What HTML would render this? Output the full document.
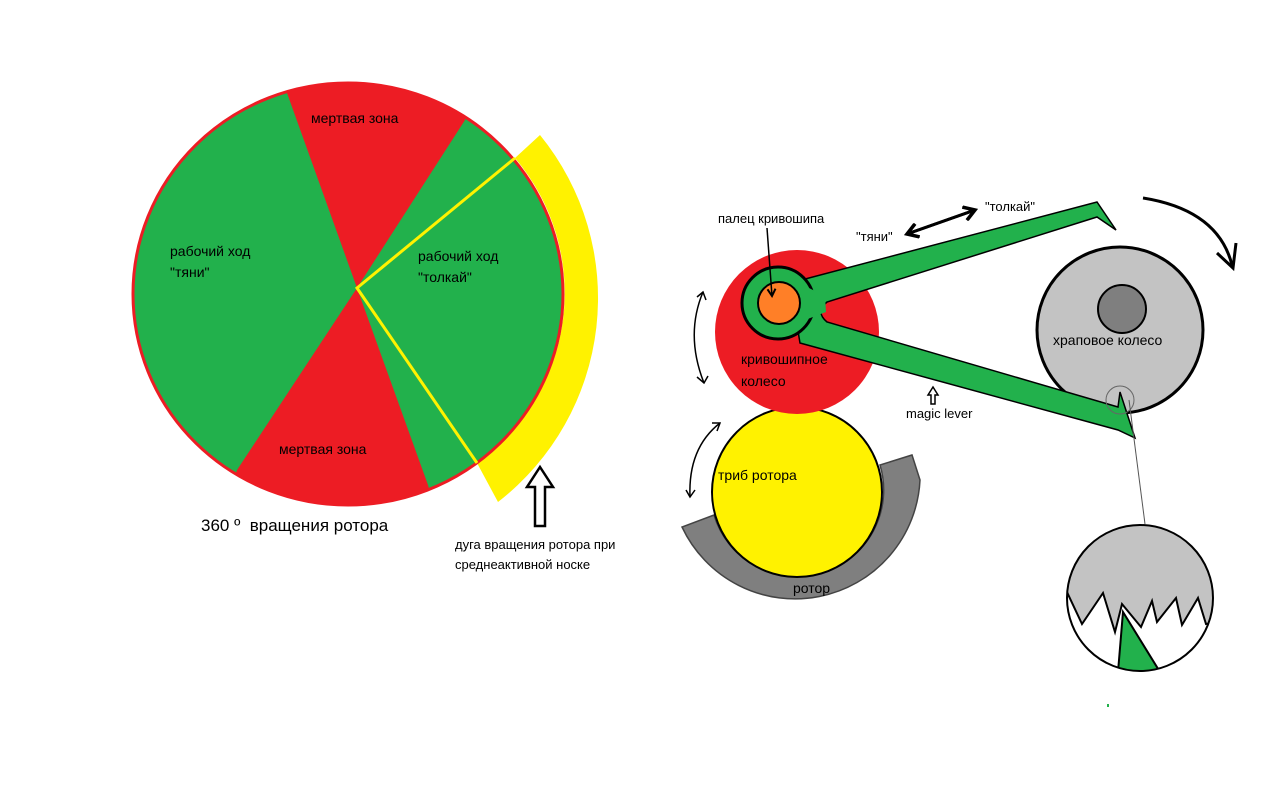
<!DOCTYPE html>
<html><head><meta charset="utf-8"><style>
html,body{margin:0;padding:0;background:#fff;}
svg{display:block;}
text{font-family:"Liberation Sans","DejaVu Sans",sans-serif;}
</style></head><body>
<svg width="1280" height="792" viewBox="0 0 1280 792" xmlns="http://www.w3.org/2000/svg">
<defs>
<clipPath id="pc"><ellipse cx="348" cy="294" rx="215" ry="211"/></clipPath>
<marker id="ah" markerWidth="10" markerHeight="10" refX="8" refY="5" orient="auto" markerUnits="userSpaceOnUse"><path d="M1,1 L8,5 L1,9" fill="none" stroke="#000" stroke-width="2"/></marker>
<marker id="ah2" markerWidth="16" markerHeight="16" refX="12" refY="8" orient="auto" markerUnits="userSpaceOnUse"><path d="M1,1 L12,8 L1,15" fill="none" stroke="#000" stroke-width="3.5"/></marker>
</defs>
<!-- yellow band -->
<path d="M515,158 L540,135 A258,258 0 0 1 498,502 L477,463 A215,211 0 0 0 515,158 Z" fill="#fff200"/>
<!-- pie -->
<g clip-path="url(#pc)">
<rect x="120" y="70" width="460" height="450" fill="#22b14c"/>
<path d="M357,288 L287,93 L260,40 L480,40 L465,120 Z" fill="#ed1c24"/>
<path d="M357,288 L428,485 L440,530 L220,530 L237,470 Z" fill="#ed1c24"/>
</g>
<ellipse cx="348" cy="294" rx="215" ry="211" fill="none" stroke="#ed1c24" stroke-width="3"/>
<polyline points="515,158 357,288 477,463" fill="none" stroke="#fff200" stroke-width="3"/>
<text x="311" y="123" font-size="14">мертвая зона</text>
<text x="279" y="454" font-size="14">мертвая зона</text>
<text x="170" y="256" font-size="14">рабочий ход</text>
<text x="170" y="277" font-size="14">"тяни"</text>
<text x="418" y="261" font-size="14">рабочий ход</text>
<text x="418" y="282" font-size="14">"толкай"</text>
<text x="201" y="531" font-size="17">360 º&#160;&#160;вращения ротора</text>
<!-- hollow up arrow -->
<path d="M540,467 L553,487 L545,487 L545,526 L535,526 L535,487 L527,487 Z" fill="#fff" stroke="#000" stroke-width="2.5"/>
<text x="455" y="549" font-size="13">дуга вращения ротора при</text>
<text x="455" y="569" font-size="13">среднеактивной носке</text>

<!-- rotor grey band -->
<path d="M682,527 A125,125 0 0 0 920,480 L912,455 L880,465 A85,85 0 0 1 714,515 Z" fill="#7f7f7f" stroke="#444" stroke-width="1.5"/>
<circle cx="797" cy="492" r="85" fill="#fff200" stroke="#000" stroke-width="2"/>
<text x="718" y="480" font-size="14">триб ротора</text>
<text x="793" y="593" font-size="14">ротор</text>
<!-- crank wheel -->
<circle cx="797" cy="332" r="82" fill="#ed1c24"/>
<text x="741" y="364" font-size="14">кривошипное</text>
<text x="741" y="386" font-size="14">колесо</text>
<!-- ratchet wheel -->
<circle cx="1120" cy="330" r="83" fill="#c3c3c3" stroke="#000" stroke-width="3"/>
<circle cx="1122" cy="309" r="24" fill="#7f7f7f" stroke="#000" stroke-width="2"/>
<text x="1053" y="345" font-size="14">храповое колесо</text>
<!-- lever -->
<path d="M790,283 L1097,202 L1116,230 L1097,217 L827,302 Q815,312 827,322 L1118,407 L1120,392 L1135,438 L1118,430 L800,343 Z" fill="#22b14c" stroke="#000" stroke-width="1.5"/>
<circle cx="778" cy="303" r="36" fill="#22b14c" stroke="#000" stroke-width="3"/>
<path d="M805,286 L825,296 L826,312 L805,320 Z" fill="#22b14c"/>
<circle cx="779" cy="303" r="21" fill="#ff7f27" stroke="#000" stroke-width="2"/>
<text x="718" y="223" font-size="13">палец кривошипа</text>
<line x1="767" y1="228" x2="772" y2="296" stroke="#000" stroke-width="1.5" marker-end="url(#ah)"/>
<!-- push/pull arrow -->
<line x1="975" y1="210" x2="907" y2="234" stroke="#000" stroke-width="3" marker-end="url(#ah2)"/>
<line x1="907" y1="234" x2="975" y2="210" stroke="#000" stroke-width="3" marker-end="url(#ah2)"/>
<text x="985" y="211" font-size="13">"толкай"</text>
<text x="856" y="241" font-size="13">"тяни"</text>
<!-- rotation arrows -->
<path d="M1143,198 Q1218,210 1232,265" fill="none" stroke="#000" stroke-width="3"/>
<path d="M1217,253 L1233,268 L1236,243" fill="none" stroke="#000" stroke-width="3"/>
<path d="M703,292 Q685,335 704,383" fill="none" stroke="#000" stroke-width="1.5"/>
<path d="M697,297 L703,292 L706,300 M697,377 L704,383 L708,376" fill="none" stroke="#000" stroke-width="1.5"/>
<path d="M720,423 Q688,448 690,497" fill="none" stroke="#000" stroke-width="1.5"/>
<path d="M712,423 L720,423 L717,431 M686,490 L690,497 L695,490" fill="none" stroke="#000" stroke-width="1.5"/>
<!-- magic lever -->
<path d="M933,387 L938,395 L935,395 L935,404 L931,404 L931,395 L928,395 Z" fill="#fff" stroke="#000" stroke-width="1.5"/>
<text x="906" y="418" font-size="13">magic lever</text>
<!-- zoom circle -->
<circle cx="1120" cy="400" r="14" fill="none" stroke="#666" stroke-width="1"/>
<line x1="1129" y1="400" x2="1145" y2="524" stroke="#555" stroke-width="1"/>
<!-- detail circle -->
<clipPath id="dc"><circle cx="1140" cy="598" r="73"/></clipPath>
<g clip-path="url(#dc)">
<rect x="1060" y="520" width="160" height="160" fill="#fff"/>
<path d="M1060,520 L1220,520 L1220,622 L1206,624 L1198,598 L1182,625 L1176,598 L1157,622 L1152,601 L1141,627 L1122,604 L1115,632 L1103,593 L1082,624 L1066,590 L1060,590 Z" fill="#c3c3c3" stroke="#000" stroke-width="2"/>
<path d="M1118,672 L1123,612 L1160,672 Z" fill="#22b14c" stroke="#000" stroke-width="2"/>
</g>
<circle cx="1140" cy="598" r="73" fill="none" stroke="#000" stroke-width="2"/>
<rect x="1107" y="704" width="2" height="3" fill="#22b14c"/>
</svg>
</body></html>
